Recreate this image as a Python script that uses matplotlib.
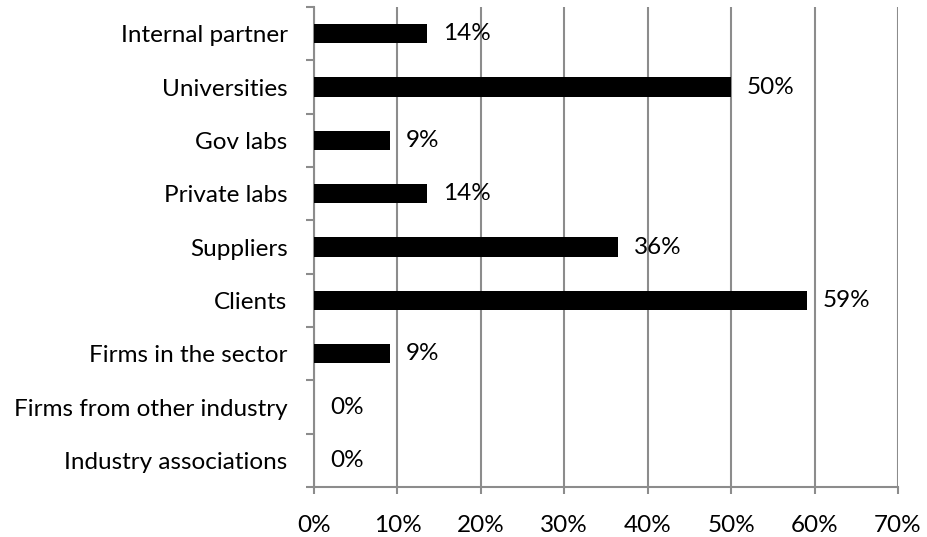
import numpy as np
import matplotlib.pyplot as plt
from matplotlib.ticker import MultipleLocator, FuncFormatter

plt.rcParams['font.family'] = ['Lato', 'DejaVu Sans']

# categories listed bottom -> top
categories = ["Industry associations", "Firms from other industry", "Firms in the sector",
              "Clients", "Suppliers", "Private labs", "Gov labs", "Universities",
              "Internal partner"]
shares = [0.0, 0.0, 0.091, 0.591, 0.364, 0.136, 0.091, 0.50, 0.136]

GRID = "#8c8c8c"
FS = 17.5

fig = plt.figure(figsize=(9.27, 5.37), dpi=100)
ax = fig.add_axes([314 / 927, 1 - 487 / 537, (898 - 314) / 927, 480 / 537])

y = np.arange(len(categories))
ax.barh(y, shares, height=0.36, color="black", zorder=3)
for yi, v in zip(y, shares):
    ax.annotate(f"{v:.0%}", (v, yi), xytext=(16, 0), textcoords="offset pixels",
                va="center", ha="left", fontsize=FS, zorder=4)

ax.set_xlim(0, 0.7)
ax.set_ylim(-0.5, len(categories) - 0.5)
ax.xaxis.set_major_locator(MultipleLocator(0.1))
ax.xaxis.set_major_formatter(FuncFormatter(lambda v, _: f"{v:.0%}"))
ax.grid(axis="x", color=GRID, linewidth=1.5, zorder=0)

# category labels sit between boundary ticks
ax.set_yticks(y)
ax.set_yticklabels(categories, fontsize=FS)
ax.tick_params(axis="y", length=0, pad=19)
ax.set_yticks(np.arange(-0.5, len(categories)), minor=True)
ax.tick_params(axis="y", which="minor", length=6, width=1.5, color=GRID)
ax.tick_params(axis="x", length=5, width=1.5, color=GRID, pad=15, labelsize=FS)

for side in ("top", "right"):
    ax.spines[side].set_visible(False)
for side in ("left", "bottom"):
    ax.spines[side].set_color(GRID)
    ax.spines[side].set_linewidth(1.5)

fig.savefig("out.png", dpi=100)
